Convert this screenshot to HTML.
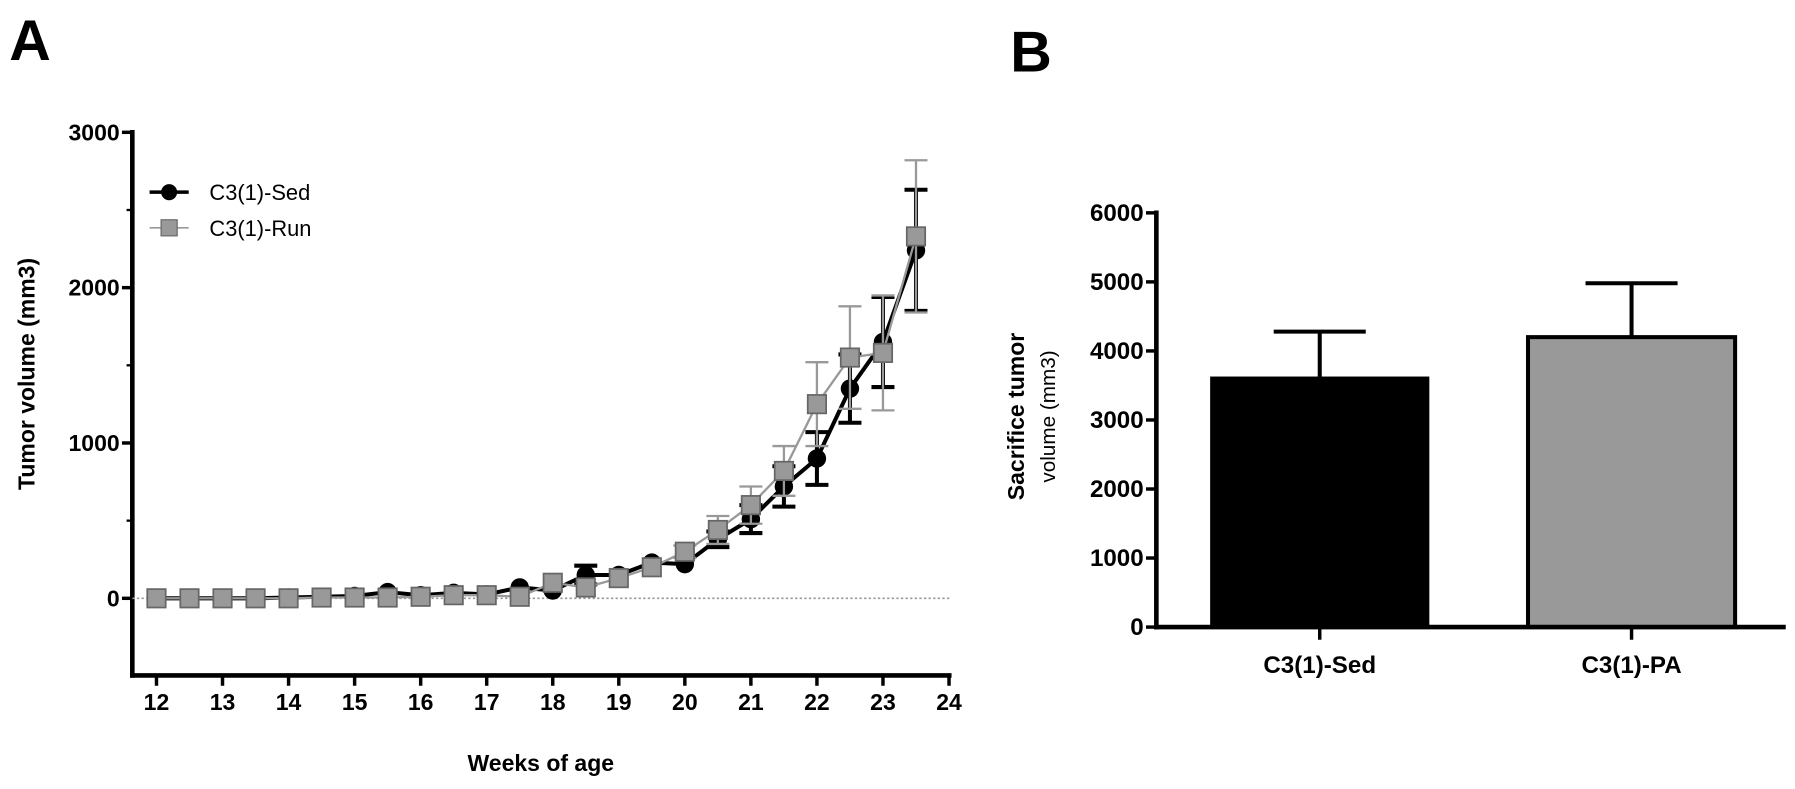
<!DOCTYPE html>
<html><head><meta charset="utf-8"><style>
body{margin:0;background:#fff;}
svg{display:block;font-family:"Liberation Sans",Arial,sans-serif;}
</style></head><body>
<svg id="fig" width="1795" height="789">
<g transform="scale(1.1506)">
<text x="8" y="52" font-size="50" font-weight="bold">A</text>
<text x="878" y="62" font-size="50" font-weight="bold">B</text>
<g id="A"></g>
<g id="B"></g>
</g>
</svg>
<script>
const weeks=[12,12.5,13,13.5,14,14.5,15,15.5,16,16.5,17,17.5,18,18.5,19,19.5,20,20.5,21,21.5,22,22.5,23,23.5];
const sedVals=[0,0,0,0,5,10,15,40,20,35,25,70,50,150,150,230,220,380,510,720,900,1350,1650,2240];
const sedErr=[0,0,0,0,0,0,0,0,0,0,0,0,0,60,0,0,0,50,90,130,170,220,290,390];
const runVals=[0,0,0,0,0,5,5,5,10,20,20,10,100,70,130,200,300,440,600,820,1250,1550,1580,2330];
const runErr=[0,0,0,0,0,0,0,0,0,0,0,0,0,0,0,0,40,90,120,160,270,330,370,490];
const xTicks=[12,13,14,15,16,17,18,19,20,21,22,23,24];
const yTicks=[0,1000,2000,3000];
const barCats=["C3(1)-Sed","C3(1)-PA"];
const barVals=[3600,4200];
const barErr=[680,780];
const barTicks=[0,1000,2000,3000,4000,5000,6000];
const NS="http://www.w3.org/2000/svg";
function mk(p,t,a,txt){const e=document.createElementNS(NS,t);for(const k in a)e.setAttribute(k,a[k]);if(txt!==undefined)e.textContent=txt;p.appendChild(e);return e;}
// Panel A
const A=document.getElementById('A');
const xA=w=>136+(w-12)*57.4;
const yA=v=>520-v*0.135;
const AX=587;
let e;
e=mk(A,'line',{x1:115,y1:113,x2:115,y2:AX+2,stroke:'#000','stroke-width':4});

e=mk(A,'line',{x1:113,y1:AX,x2:827,y2:AX,stroke:'#000','stroke-width':4});

e=mk(A,'line',{x1:115,y1:yA(0),x2:825,y2:yA(0),stroke:'#999','stroke-width':1.5,'stroke-dasharray':'2,2'});

yTicks.forEach(v=>{
 e=mk(A,'line',{x1:106,y1:yA(v),x2:115,y2:yA(v),stroke:'#000','stroke-width':3});
 
 e=mk(A,'text',{x:104,y:yA(v)+7,'font-size':20,'font-weight':'bold','text-anchor':'end'},v);
 
});
[500,1500,2500].forEach(v=>{e=mk(A,'line',{x1:110,y1:yA(v),x2:115,y2:yA(v),stroke:'#000','stroke-width':2});
 });
xTicks.forEach(w=>{
 e=mk(A,'line',{x1:xA(w),y1:AX,x2:xA(w),y2:AX+9,stroke:'#000','stroke-width':3});
 
 e=mk(A,'text',{x:xA(w),y:AX+30,'font-size':20,'font-weight':'bold','text-anchor':'middle'},w);
 
});
e=mk(A,'text',{x:470,y:670,'font-size':20,'font-weight':'bold','text-anchor':'middle'},'Weeks of age');

e=mk(A,'text',{x:0,y:0,'font-size':20,'font-weight':'bold','text-anchor':'middle',transform:'translate(30,325) rotate(-90)'},'Tumor volume (mm3)');

function series(vals,errs,color,lw,isSq,name){
 const g=mk(A,'g',{});
 
 vals.forEach((v,i)=>{if(errs[i]>0){
  const x=xA(weeks[i]);
  e=mk(g,'path',{d:`M${x},${yA(v-errs[i])}V${yA(v+errs[i])}M${x-10},${yA(v+errs[i])}h20M${x-10},${yA(v-errs[i])}h20`,stroke:color,'stroke-width':lw,fill:'none'});
  }});
 e=mk(g,'polyline',{points:vals.map((v,i)=>xA(weeks[i])+','+yA(v)).join(' '),fill:'none',stroke:color,'stroke-width':lw});
 
 vals.forEach((v,i)=>{const x=xA(weeks[i]),y=yA(v);
  if(isSq)e=mk(g,'rect',{x:x-8,y:y-8,width:16,height:16,fill:'#999',stroke:'#666','stroke-width':1.5});
  else e=mk(g,'circle',{cx:x,cy:y,r:8,fill:'#000'});
  });
}
series(sedVals,sedErr,'#000',3.5,false,'series-sed');
series(runVals,runErr,'#999',2,true,'series-run');
const lg=mk(A,'g',{});
e=mk(lg,'line',{x1:130,y1:167,x2:164,y2:167,stroke:'#000','stroke-width':3});
e=mk(lg,'circle',{cx:147,cy:167,r:7,fill:'#000'});
e=mk(lg,'text',{x:182,y:174,'font-size':19},'C3(1)-Sed');
e=mk(lg,'line',{x1:130,y1:198,x2:164,y2:198,stroke:'#999','stroke-width':1.5});
e=mk(lg,'rect',{x:140,y:191,width:14,height:14,fill:'#999',stroke:'#666'});
e=mk(lg,'text',{x:182,y:205,'font-size':19},'C3(1)-Run');
// Panel B
const B=document.getElementById('B');
const yB=v=>545-v*0.06;
const cx=[1147,1418],bw=[187,180];
e=mk(B,'line',{x1:1005,y1:183,x2:1005,y2:547,stroke:'#000','stroke-width':4});

barTicks.forEach(v=>{
 e=mk(B,'line',{x1:996,y1:yB(v),x2:1005,y2:yB(v),stroke:'#000','stroke-width':3});
 
 e=mk(B,'text',{x:994,y:yB(v)+7,'font-size':21,'font-weight':'bold','text-anchor':'end'},v);
 
});
barVals.forEach((v,i)=>{
 e=mk(B,'path',{d:`M${cx[i]},${yB(v)}V${yB(v+barErr[i])}M${cx[i]-40},${yB(v+barErr[i])}h80`,stroke:'#000','stroke-width':3.5,fill:'none'});
 
 e=mk(B,'rect',{x:cx[i]-bw[i]/2,y:yB(v),width:bw[i],height:yB(0)-yB(v),fill:i?'#999':'#000',stroke:'#000','stroke-width':3.5});
 
 e=mk(B,'line',{x1:cx[i],y1:545,x2:cx[i],y2:556,stroke:'#000','stroke-width':3});
 
 e=mk(B,'text',{x:cx[i],y:585,'font-size':21,'font-weight':'bold','text-anchor':'middle'},barCats[i]);
 
});
e=mk(B,'line',{x1:1003,y1:545,x2:1552,y2:545,stroke:'#000','stroke-width':4});

e=mk(B,'text',{x:0,y:0,'font-size':20,'font-weight':'bold','text-anchor':'middle',transform:'translate(890,362) rotate(-90)'},'Sacrifice  tumor');

e=mk(B,'text',{x:0,y:0,'font-size':18,'text-anchor':'middle',transform:'translate(917,362) rotate(-90)'},'volume (mm3)');

</script>
</body></html>
